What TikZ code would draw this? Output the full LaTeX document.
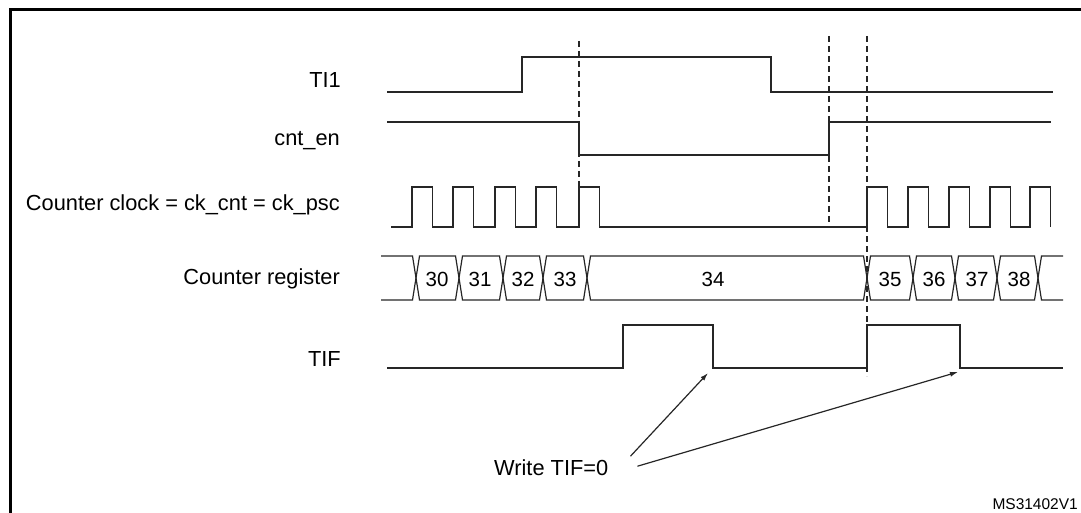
\documentclass[tikz,border=0pt]{standalone}
\usepackage{fontspec}
\setmainfont{Liberation Sans}
\usetikzlibrary{arrows.meta}

\begin{document}
\begin{tikzpicture}[x=1pt,y=-1pt,
  sig/.style={line width=1.2pt,black!85},
  vline/.style={line width=1.2pt,black!85,dash pattern=on 6pt off 4pt},
  lbl/.style={anchor=base east,inner sep=0pt,font=\fontsize{21.8}{25}\selectfont},
  num/.style={inner sep=0pt,font=\fontsize{20.5}{24}\selectfont}]
\useasboundingbox (0,0) rectangle (1081,513);
\draw[line width=3pt] (10,530) -- (10,9.5) -- (1095,9.5);
% signal names
\node[lbl] (ti1) at (341,88) {TI1};
\node[lbl] (cnten) at (340,146) {cnt\_en};
\node[lbl] (ckcnt) at (340,211) {Counter clock = ck\_cnt = ck\_psc};
\node[lbl] (cntreg) at (340,284) {Counter register};
\node[lbl] (tif) at (341,366) {TIF};
% dashed markers
\draw[vline] (579,41) -- (579,227);
\draw[vline] (829,36) -- (829,228);
\draw[vline] (867,36) -- (867,376);
% waveforms
\draw[sig] (387,92) -- (522,92) -- (522,57) -- (771,57) -- (771,92) -- (1053,92);
\draw[sig] (387,122) -- (579,122) -- (579,155) -- (829,155) -- (829,122) -- (1051,122);
\draw[sig] (391,227) foreach \r in {412,453,495,536,579,867,908,949,990,1030}
  { -- (\r,227) -- (\r,187) -- (\r+20.5,187) -- (\r+20.5,227) };
\draw[sig] (381,256) -- (412.5,256) -- (416,278) -- (412.5,300) -- (381,300);
\foreach \a/\b/\m/\v in {416/459/437/30,459/503/480/31,503/543/523/32,543/587/565/33,
  587/867/713/34,867/913/890/35,913/955/934/36,955/997/977/37,997/1038/1019/38}{
  \draw[sig] (\a,278) -- (\a+3.5,256) -- (\b-3.5,256) -- (\b,278) -- (\b-3.5,300) -- (\a+3.5,300) -- cycle;
  \node[num] (r\v) at (\m,279) {\v};
}
\draw[sig] (1063,256) -- (1041.5,256) -- (1038,278) -- (1041.5,300) -- (1063,300);
\draw[sig] (387,368) -- (623,368) -- (623,325) -- (713,325) -- (713,368) -- (867,368)
  -- (867,325) -- (960,325) -- (960,368) -- (1063,368);
% flag clear
\node[lbl,anchor=base west] (wtif) at (494,475) {Write TIF=0};
\coordinate (clr1) at (708,373);
\coordinate (clr2) at (958,372);
\draw[sig,-{Latex[length=8pt,width=5pt]}] ([shift={(22,-11)}]wtif.east) -- (clr1);
\draw[sig,-{Latex[length=8pt,width=5pt]}] ([shift={(29,-1)}]wtif.east) -- (clr2);
\node[inner sep=0pt,anchor=base east,font=\fontsize{15.5}{19}\selectfont] (ms) at (1078,509) {MS31402V1};
\end{tikzpicture}
\end{document}
